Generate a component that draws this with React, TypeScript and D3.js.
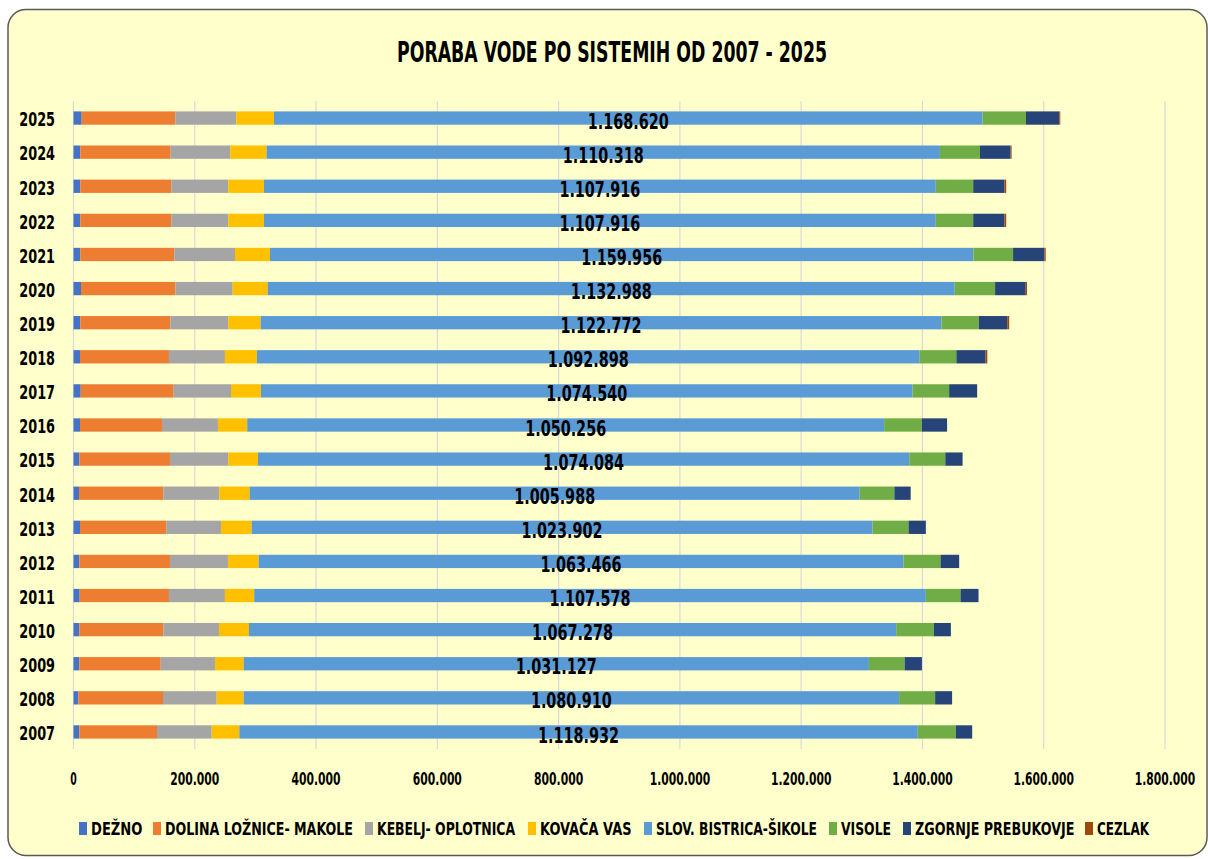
import React from "react";
import * as d3 from "d3";

const years = ["2025","2024","2023","2022","2021","2020","2019","2018","2017","2016","2015","2014","2013","2012","2011","2010","2009","2008","2007"];

const seriesNames = ["DEŽNO","DOLINA LOŽNICE- MAKOLE","KEBELJ- OPLOTNICA","KOVAČA VAS","SLOV. BISTRICA-ŠIKOLE","VISOLE","ZGORNJE PREBUKOVJE","CEZLAK"];

const dezno = [13500,11200,11200,11200,11200,12400,11200,10700,11900,10700,9600,9100,10700,9600,10200,9600,9600,7900,9600];
const dolina = [154300,149000,150000,150000,155000,155500,148400,146700,153300,135200,149500,139000,142300,149500,147200,138500,134200,139700,128100];
const kebelj = [100600,98300,94000,94000,100100,94600,95600,92300,94500,92300,96100,92300,90200,95600,92300,91800,89500,88500,90200];
const kovaca = [62200,60000,58900,58900,57700,57700,53400,52800,49500,48300,49000,50100,50600,50600,48300,49500,47300,44500,45500];
const slovBistrica = [1168620,1110318,1107916,1107916,1159956,1132988,1122772,1092898,1074540,1050256,1074084,1005988,1023902,1063466,1107578,1067278,1031127,1080910,1118932];
const visole = [71500,66000,61700,61700,65500,66600,61700,60500,60300,62200,59400,57200,59400,61000,57200,62200,58900,59400,62700];
const zgornje = [55000,50600,51600,51600,51600,50500,46700,48300,46200,41700,28500,26900,28500,30800,29700,28000,28500,28000,27000];
const cezlak = [1600,1600,2800,2800,2200,2200,3300,2800,0,0,0,0,0,0,0,0,0,0,0];

const xTicks = [0,200000,400000,600000,800000,1000000,1200000,1400000,1600000,1800000];
const colors = ["#4472C4","#ED7D31","#A5A5A5","#FFC000","#5B9BD5","#70AD47","#264478","#9E480E"];
const legendX = [79,153,365,528,644,829,903,1085];
const legendW = [51.5,188,138,91.5,161,50,159.5,52];

const FONT = "'Liberation Sans Narrow', 'DejaVu Sans Condensed', 'Arial Narrow', sans-serif";

const fmt = (v: number) => {
  const s = Math.round(v).toString();
  return s.replace(/\B(?=(\d{3})+(?!\d))/g, ".");
};

export default function App() {
  const W = 1208, H = 859;
  const left = 73.5, right = 1165;
  const top = 101, bottom = 749;
  const x = d3.scaleLinear().domain([0, 1800000]).range([left, right]);
  const y = d3.scaleBand<string>().domain(years).range([top, bottom]).paddingInner(0.61).paddingOuter(0.305);

  const allSeries = [dezno, dolina, kebelj, kovaca, slovBistrica, visole, zgornje, cezlak];
  const table = years.map((yr, i) => {
    const row: any = { year: yr };
    seriesNames.forEach((n, j) => (row[n] = allSeries[j][i]));
    return row;
  });
  const stacked = d3.stack<any>().keys(seriesNames)(table);

  const bw = y.bandwidth();

  return (
    <>
      <style>{"body{margin:0}"}</style>
      <svg width={W} height={H} style={{ display: "block", fontFamily: FONT }}>
        <rect x={0} y={0} width={W} height={H} fill="#ffffff" />
        <rect x={8} y={9.5} width={1199} height={846} rx={18} ry={18} fill="#FFFFCC" stroke="#595959" strokeWidth={1.5} />
        <text x={612} y={62} textAnchor="middle" fontSize={29} fontWeight="bold" fill="#000" textLength={430} lengthAdjust="spacingAndGlyphs">
          PORABA VODE PO SISTEMIH OD 2007 - 2025
        </text>
        {xTicks.map((t) => (
          <line key={"g" + t} x1={x(t)} x2={x(t)} y1={top} y2={bottom} stroke="#D9D9D9" strokeWidth={1.2} />
        ))}
        {stacked.map((s, si) => (
          <g key={s.key} fill={colors[si]}>
            {s.map((d, i) => (
              <rect key={i} x={x(d[0])} y={y(years[i])!} width={Math.max(0, x(d[1]) - x(d[0]))} height={bw} />
            ))}
          </g>
        ))}
        {years.map((yr, i) => {
          const c = y(yr)! + bw / 2;
          const s = stacked[4][i];
          return (
            <g key={"l" + yr}>
              <text x={55} y={c + 8.3} textAnchor="end" fontSize={20} fontWeight="bold" fill="#000" textLength={35.7} lengthAdjust="spacingAndGlyphs">
                {yr}
              </text>
              <text x={(x(s[0]) + x(s[1])) / 2} y={c + 10.6} textAnchor="middle" fontSize={22} fontWeight="bold" fill="#000" textLength={81} lengthAdjust="spacingAndGlyphs">
                {fmt(slovBistrica[i])}
              </text>
            </g>
          );
        })}
        {xTicks.map((t) => {
          const label = fmt(t);
          const n = label.length;
          const w = t === 0 ? 6.5 : (n - (label.split(".").length - 1) * 0.5) * 7.55;
          return (
            <g key={"t" + t} transform={`translate(${x(t)},785) scale(1,1.25)`}>
              <text x={0} y={0} textAnchor="middle" fontSize={13.6} fontWeight="bold" fill="#000" textLength={w} lengthAdjust="spacingAndGlyphs">
                {label}
              </text>
            </g>
          );
        })}
        {seriesNames.map((n, i) => (
          <g key={"lg" + n}>
            <rect x={legendX[i]} y={822} width={8} height={13} fill={colors[i]} />
            <g transform={`translate(${legendX[i] + 12},835) scale(1,1.25)`}>
              <text x={0} y={0} fontSize={14.4} fontWeight="bold" fill="#000" textLength={legendW[i]} lengthAdjust="spacingAndGlyphs">
                {n}
              </text>
            </g>
          </g>
        ))}
      </svg>
    </>
  );
}
